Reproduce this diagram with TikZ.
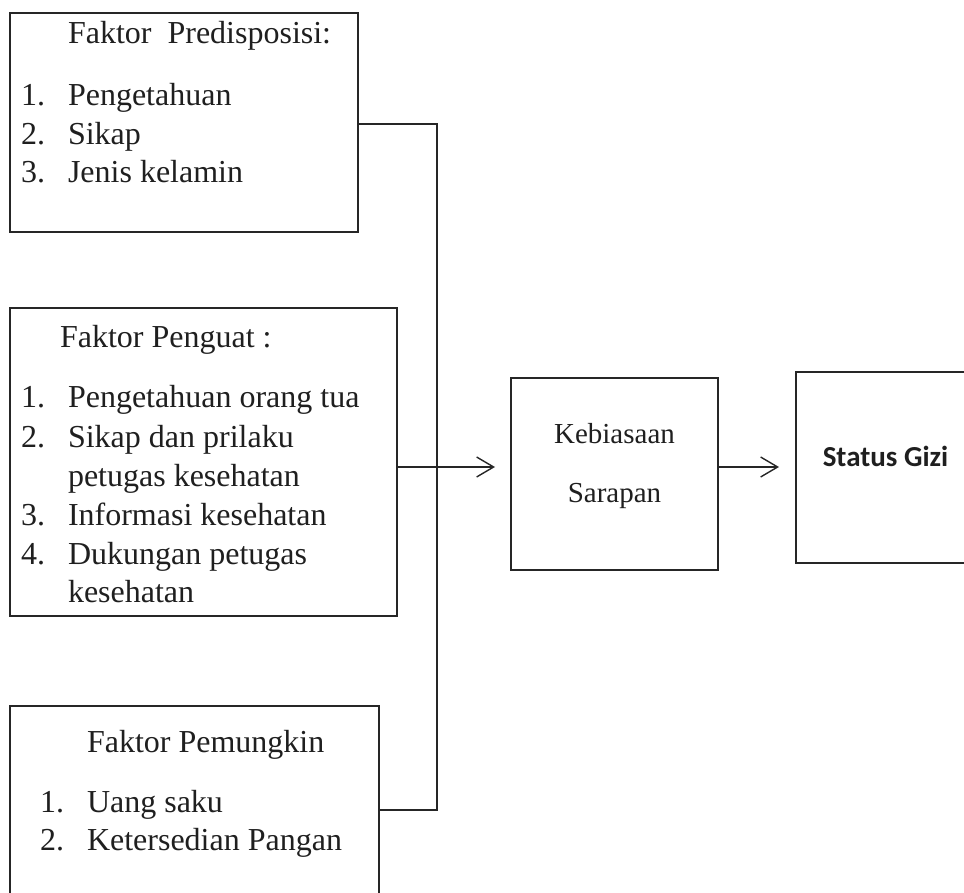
\documentclass[tikz,border=0pt]{standalone}
\usepackage{fontspec}
\setmainfont{Liberation Serif}
\newfontfamily\calfont{Carlito}
\usetikzlibrary{arrows.meta}
\begin{document}
\begin{tikzpicture}[x=1pt,y=-1pt,
  box/.style={draw=black!85, line width=1.5pt, rectangle, inner sep=0pt, outer sep=0pt},
  txt/.style={anchor=base west, inner sep=0pt, outer sep=0pt, text=black!88, font=\fontsize{32}{38}\selectfont},
  ctxt/.style={anchor=base, inner sep=0pt, outer sep=0pt, text=black!88, font=\fontsize{29}{34}\selectfont},
  conn/.style={draw=black!85, line width=1.4pt},
  arr/.style={conn, -{Straight Barb[length=17pt,width=20pt,line width=1.4pt]}}
]
\useasboundingbox (0,0) rectangle (964,893);
\clip (0,0) rectangle (964,893);

% boxes
\node[box, minimum width=348pt, minimum height=219pt] (b1) at (184,122.5) {};
\node[box, minimum width=387pt, minimum height=308pt] (b2) at (203.5,462) {};
\node[box, minimum width=369pt, minimum height=230pt] (b3) at (194.5,821) {};
\node[box, minimum width=207pt, minimum height=192pt] (k) at (614.5,474) {};
\node[box, minimum width=230pt, minimum height=191pt] (s) at (911,467.5) {};

% box 1 text
\node[txt] (h1) at (68,44) {Faktor\ \ Predisposisi:};
\node[txt] (n11) at (21,106) {1.};
\node[txt] (t11) at (68,106) {Pengetahuan};
\node[txt] (n12) at (21,144.5) {2.};
\node[txt] (t12) at (68,144.5) {Sikap};
\node[txt] (n13) at (21,183) {3.};
\node[txt] (t13) at (68,183) {Jenis kelamin};

% box 2 text
\node[txt] (h2) at (60,348) {Faktor Penguat :};
\node[txt] (n21) at (21,407) {1.};
\node[txt] (t21) at (68,407) {Pengetahuan orang tua};
\node[txt] (n22) at (21,447) {2.};
\node[txt] (t22) at (68,447) {Sikap dan prilaku};
\node[txt] (t22b) at (68,486) {petugas kesehatan};
\node[txt] (n23) at (21,525) {3.};
\node[txt] (t23) at (68,525) {Informasi kesehatan};
\node[txt] (n24) at (21,564) {4.};
\node[txt] (t24) at (68,564) {Dukungan petugas};
\node[txt] (t24b) at (68,602) {kesehatan};

% box 3 text
\node[txt] (h3) at (87,752) {Faktor Pemungkin};
\node[txt] (n31) at (40,812) {1.};
\node[txt] (t31) at (87,812) {Uang saku};
\node[txt] (n32) at (40,850) {2.};
\node[txt] (t32) at (87,850) {Ketersedian Pangan};

% middle boxes text
\node[ctxt] (kt1) at (614.5,443) {Kebiasaan};
\node[ctxt] (kt2) at (614.5,502) {Sarapan};
\node[ctxt, font=\calfont\bfseries\fontsize{29}{34}\selectfont] (st) at (885.5,466) {Status Gizi};

% connectors
\coordinate (jt) at (437,124);
\coordinate (jm) at (437,467);
\coordinate (jb) at (437,810);
\draw[conn] (b1.east |- jt) -- (jt) -- (jb) -- (b3.east |- jb);
\draw[conn] (b2.east |- jm) -- (jm);
\draw[arr, shorten >=16pt] (jm) -- (k.west |- jm);
\draw[arr, shorten >=17pt] (k.east |- jm) -- (s.west |- jm);
\end{tikzpicture}
\end{document}
